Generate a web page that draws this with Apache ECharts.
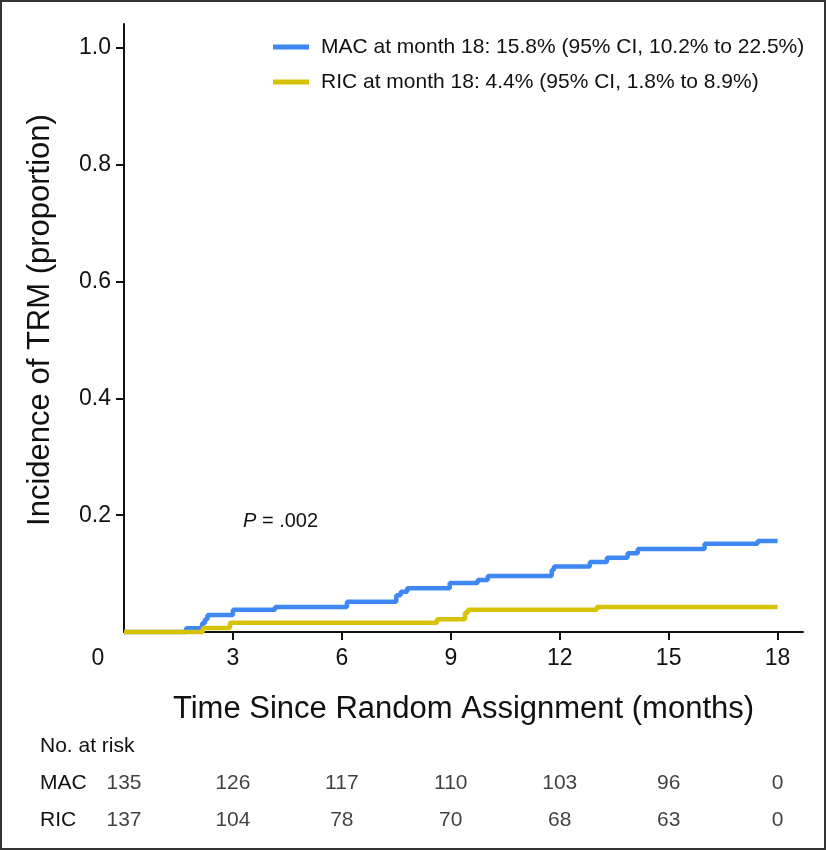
<!DOCTYPE html>
<html>
<head>
<meta charset="utf-8">
<script src="https://cdn.jsdelivr.net/npm/echarts@6/dist/echarts.min.js"></script>
<style>
html,body{margin:0;padding:0;background:#fff;}
#chart{width:826px;height:850px;}
</style>
</head>
<body>
<div id="chart"></div>
<script>
// ---- Data ----
const seriesNames = ['MAC at month 18: 15.8% (95% CI, 10.2% to 22.5%)', 'RIC at month 18: 4.4% (95% CI, 1.8% to 8.9%)'];
const macSteps = [
  [0, 0], [1.71, 0.0065], [2.15, 0.015], [2.23, 0.022], [2.3, 0.029], [3.0, 0.038],
  [4.16, 0.043], [6.14, 0.052], [7.5, 0.063], [7.62, 0.069], [7.8, 0.075], [8.97, 0.084],
  [9.74, 0.089], [10.02, 0.096], [11.78, 0.106], [11.84, 0.112], [12.83, 0.120],
  [13.3, 0.127], [13.87, 0.135], [14.15, 0.142], [15.99, 0.151], [17.45, 0.156], [18.0, 0.156]
];
const ricSteps = [
  [0, 0], [2.17, 0.007], [2.92, 0.016], [8.62, 0.022], [9.39, 0.033], [9.47, 0.038],
  [13.02, 0.043], [18.0, 0.043]
];
const xTicks = [3, 6, 9, 12, 15, 18];
const xLabels = [0, 3, 6, 9, 12, 15, 18];
const yTicks = [0.2, 0.4, 0.6, 0.8, 1.0];
const riskTimes = [0, 3, 6, 9, 12, 15, 18];
const riskGroups = ['MAC', 'RIC'];
const riskMAC = [135, 126, 117, 110, 103, 96, 0];
const riskRIC = [137, 104, 78, 70, 68, 63, 0];

const FONT = 'Liberation Sans';
const BLUE = '#3f87f3';
const YELLOW = '#d6c305';
const INK = '#111';

const riskData = [];
riskTimes.forEach((t, i) => {
  riskData.push([t, 'MAC', riskMAC[i]]);
  riskData.push([t, 'RIC', riskRIC[i]]);
});

const chart = echarts.init(document.getElementById('chart'), null, {renderer: 'canvas'});
chart.setOption({
  animation: false,
  backgroundColor: '#fff',
  textStyle: {fontFamily: FONT, color: INK},
  grid: [
    {left: 124, right: 23, top: 24, height: 608},
    {left: 124, right: 23, top: 765, height: 74}
  ],
  legend: {
    orient: 'vertical',
    left: 268, top: 30,
    itemWidth: 36, itemHeight: 5, itemGap: 11,
    icon: 'rect',
    textStyle: {fontFamily: FONT, fontSize: 21, color: INK, lineHeight: 24, padding: [0, 0, 0, 7]},
    data: seriesNames
  },
  xAxis: [
    {
      type: 'value', gridIndex: 0, min: 0, max: 18.7,
      name: 'Time Since Random Assignment (months)',
      nameLocation: 'middle', nameGap: 62,
      nameTextStyle: {fontFamily: FONT, fontSize: 31, color: INK},
      axisLine: {show: true, onZero: false, lineStyle: {color: INK, width: 2}},
      axisTick: {show: true, length: 8, customValues: xTicks, lineStyle: {color: INK, width: 2}},
      axisLabel: {
        customValues: xLabels, margin: 15, fontSize: 23, color: INK, fontFamily: FONT,
        formatter: v => v === 0 ? '{z|0}' : String(v),
        rich: {z: {fontSize: 23, fontFamily: FONT, color: INK, padding: [0, 52, 0, 0]}}
      },
      splitLine: {show: false}
    },
    {type: 'value', gridIndex: 1, min: 0, max: 18.7, show: false}
  ],
  yAxis: [
    {
      type: 'value', gridIndex: 0, min: 0, max: 1.041,
      name: 'Incidence of TRM (proportion)',
      nameLocation: 'middle', nameGap: 68, nameRotate: 90,
      nameTextStyle: {fontFamily: FONT, fontSize: 31, color: INK, padding: [0, 0, 0, 16]},
      axisLine: {show: true, lineStyle: {color: INK, width: 2}},
      axisTick: {show: true, length: 8, customValues: yTicks, lineStyle: {color: INK, width: 2}},
      axisLabel: {customValues: yTicks, margin: 13, fontSize: 23, color: INK, fontFamily: FONT,
        formatter: v => v.toFixed(1)},
      splitLine: {show: false}
    },
    {
      type: 'category', gridIndex: 1, data: riskGroups, inverse: true,
      axisLine: {show: false}, axisTick: {show: false}, splitLine: {show: false},
      axisLabel: {align: 'left', margin: 84, fontSize: 21, color: INK, fontFamily: FONT}
    }
  ],
  series: [
    {
      name: seriesNames[0], type: 'line', step: 'end', data: macSteps,
      xAxisIndex: 0, yAxisIndex: 0, showSymbol: false, clip: false, z: 2,
      color: BLUE, lineStyle: {color: BLUE, width: 4.5}
    },
    {
      name: seriesNames[1], type: 'line', step: 'end', data: ricSteps,
      xAxisIndex: 0, yAxisIndex: 0, showSymbol: false, clip: false, z: 3,
      color: YELLOW, lineStyle: {color: YELLOW, width: 4.5}
    },
    {
      type: 'scatter', xAxisIndex: 1, yAxisIndex: 1, data: riskData,
      symbolSize: 1, itemStyle: {color: 'rgba(0,0,0,0)'},
      label: {show: true, position: 'inside', formatter: p => String(p.value[2]),
        fontSize: 21, color: INK, fontFamily: FONT},
      silent: true
    }
  ],
  graphic: [
    {type: 'text', left: 40, top: 736, style: {text: 'No. at risk', font: '21px "Liberation Sans"', fill: INK}},
    {type: 'text', left: 243, top: 511, style: {
      text: '{i|P} = .002',
      rich: {i: {fontStyle: 'italic', fontSize: 20, fontFamily: FONT, fill: INK}},
      font: '20px "Liberation Sans"', fill: INK}},
    {type: 'rect', shape: {x: 1, y: 1, width: 824, height: 848}, style: {fill: 'none', stroke: '#333', lineWidth: 2}, silent: true}
  ]
});
</script>
</body>
</html>
